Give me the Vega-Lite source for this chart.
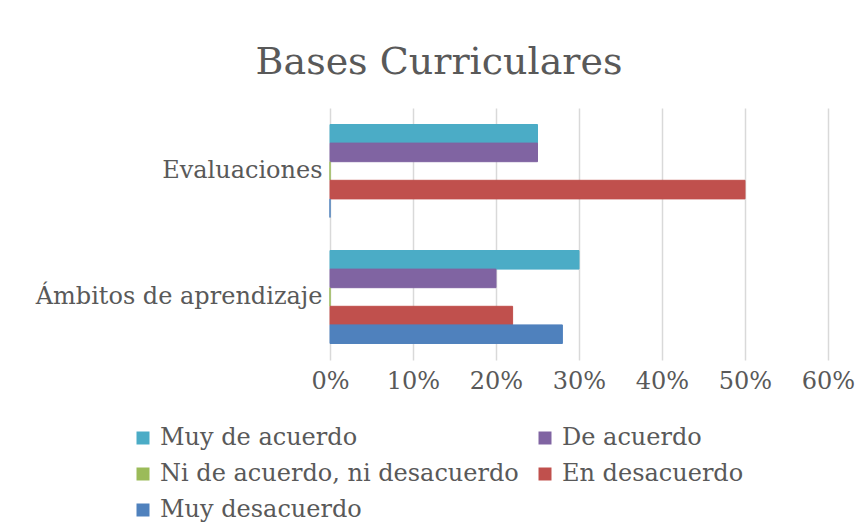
{
  "$schema": "https://vega.github.io/schema/vega-lite/v6.json",
  "autosize": "none",
  "width": 498,
  "height": 252,
  "padding": {"left": 330, "top": 108, "right": 33, "bottom": 164},
  "background": "white",
  "config": {
    "font": "DejaVu Serif",
    "view": {"stroke": null}
  },
  "title": {
    "text": "Bases Curriculares",
    "fontSize": 38,
    "fontWeight": "normal",
    "color": "#595959",
    "font": "DejaVu Serif",
    "anchor": "middle",
    "dx": -140,
    "offset": 26
  },
  "data": {
    "values": [
      {"cat": "Evaluaciones", "serie": "Muy de acuerdo", "v": 0.25},
      {"cat": "Evaluaciones", "serie": "De acuerdo", "v": 0.25},
      {"cat": "Evaluaciones", "serie": "Ni de acuerdo, ni desacuerdo", "v": 0},
      {"cat": "Evaluaciones", "serie": "En desacuerdo", "v": 0.5},
      {"cat": "Evaluaciones", "serie": "Muy desacuerdo", "v": 0},
      {"cat": "Ámbitos de aprendizaje", "serie": "Muy de acuerdo", "v": 0.3},
      {"cat": "Ámbitos de aprendizaje", "serie": "De acuerdo", "v": 0.2},
      {"cat": "Ámbitos de aprendizaje", "serie": "Ni de acuerdo, ni desacuerdo", "v": 0},
      {"cat": "Ámbitos de aprendizaje", "serie": "En desacuerdo", "v": 0.22},
      {"cat": "Ámbitos de aprendizaje", "serie": "Muy desacuerdo", "v": 0.28}
    ]
  },
  "mark": {"type": "bar", "strokeWidth": 1, "strokeOpacity": 1},
  "encoding": {
    "y": {
      "field": "cat",
      "type": "nominal",
      "sort": ["Evaluaciones", "Ámbitos de aprendizaje"],
      "scale": {"paddingInner": 0.262, "paddingOuter": 0.131},
      "axis": {
        "title": null,
        "domain": false,
        "ticks": false,
        "labelFontSize": 24,
        "labelColor": "#595959",
        "labelPadding": 8,
        "labelLimit": 400,
        "labelFont": "DejaVu Serif"
      }
    },
    "yOffset": {
      "field": "serie",
      "type": "nominal",
      "sort": ["Muy de acuerdo", "De acuerdo", "Ni de acuerdo, ni desacuerdo", "En desacuerdo", "Muy desacuerdo"],
      "scale": {"paddingInner": 0, "paddingOuter": 0}
    },
    "x": {
      "field": "v",
      "type": "quantitative",
      "scale": {"domain": [0, 0.6], "nice": false},
      "axis": {
        "title": null,
        "format": ".0%",
        "values": [0, 0.1, 0.2, 0.3, 0.4, 0.5, 0.6],
        "domain": false,
        "ticks": false,
        "grid": true,
        "gridColor": "#D9D9D9",
        "gridWidth": 1.5,
        "labelFontSize": 24,
        "labelColor": "#595959",
        "labelPadding": 9,
        "labelFlush": false,
        "labelFont": "DejaVu Serif"
      }
    },
    "color": {
      "field": "serie",
      "type": "nominal",
      "sort": ["Muy de acuerdo", "De acuerdo", "Ni de acuerdo, ni desacuerdo", "En desacuerdo", "Muy desacuerdo"],
      "scale": {
        "domain": ["Muy de acuerdo", "De acuerdo", "Ni de acuerdo, ni desacuerdo", "En desacuerdo", "Muy desacuerdo"],
        "range": ["#4BACC6", "#8064A2", "#9BBB59", "#C0504D", "#4F81BD"]
      },
      "legend": {
        "title": null,
        "orient": "none",
        "legendX": -199,
        "legendY": 318,
        "direction": "horizontal",
        "columns": 2,
        "columnPadding": 14,
        "rowPadding": 12,
        "symbolType": "square",
        "symbolSize": 169,
        "symbolStrokeWidth": 0,
        "labelFontSize": 24,
        "labelColor": "#595959",
        "labelFont": "DejaVu Serif",
        "labelOffset": 5,
        "labelLimit": 500
      }
    },
    "stroke": {
      "field": "serie",
      "type": "nominal",
      "scale": {
        "domain": ["Muy de acuerdo", "De acuerdo", "Ni de acuerdo, ni desacuerdo", "En desacuerdo", "Muy desacuerdo"],
        "range": ["#4BACC6", "#8064A2", "#9BBB59", "#C0504D", "#4F81BD"]
      },
      "legend": null
    }
  }
}
